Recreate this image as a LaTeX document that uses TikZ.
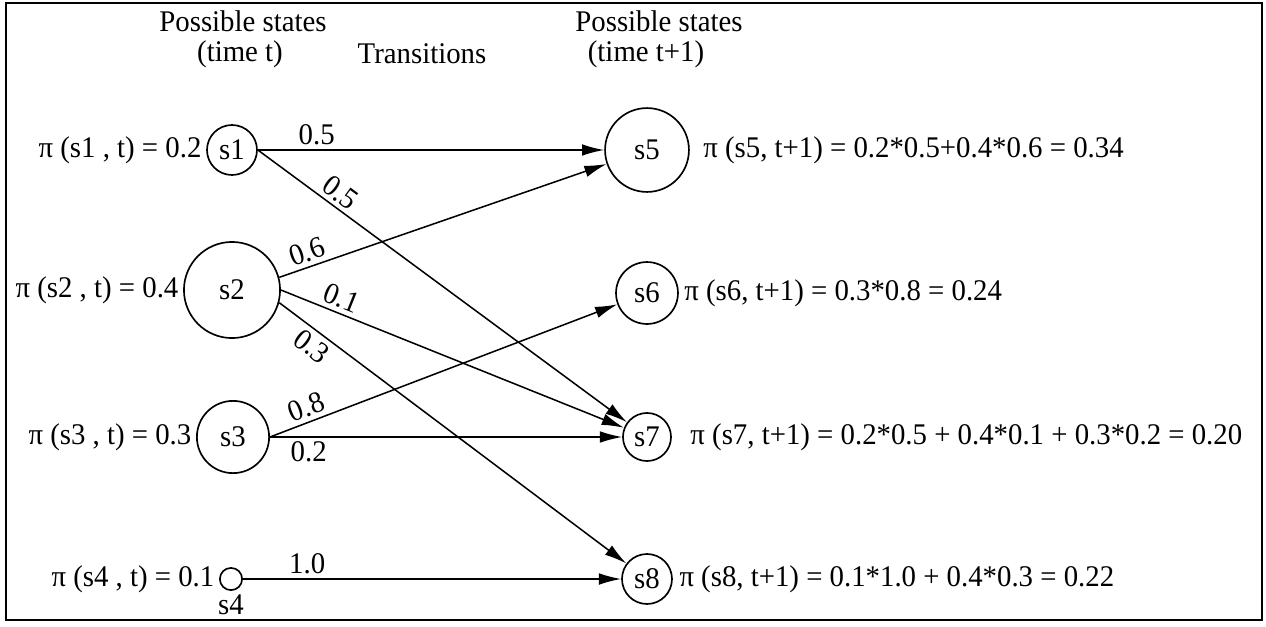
\documentclass[tikz,border=0pt]{standalone}
\usepackage{fontspec}
\setmainfont{Liberation Serif}[FakeStretch=0.96]
\usetikzlibrary{arrows.meta,positioning}

\begin{document}
\begin{tikzpicture}[x=0.36pt,y=-0.36pt,
  every node/.style={font=\fontsize{10.8}{13}\selectfont},
  state/.style={draw, circle, inner sep=0pt, line width=0.6pt},
  trans/.style={-{Latex[length=8pt,width=4.2pt]}, line width=0.55pt},
  wgt/.style={inner sep=1.5pt},
  prob/.style={inner sep=0pt}]
  \useasboundingbox (0,0) rectangle (1266,626);
  \draw[line width=0.7pt] (6,3) rectangle (1262,620);

  % column headings
  \node (headl) at (243,21) {Possible states};
  \node (timel) at (240,54) {(time t)};
  \node (headm) at (422,54) {Transitions};
  \node (headr) at (659,21) {Possible states};
  \node (timer) at (646,54) {(time t+1)};

  % states at time t
  \node[state, minimum size=18pt] (s1) at (232,150) {s1};
  \node[state, minimum size=34.6pt] (s2) at (232,290) {s2};
  \node[state, minimum size=26pt] (s3) at (233,437) {s3};
  \node[state, minimum size=8pt] (s4) at (231,579) {};
  \node[inner sep=1pt, below=0pt of s4] (s4name) {s4};

  % states at time t+1
  \node[state, minimum size=30.2pt] (s5) at (647,150) {s5};
  \node[state, minimum size=22.3pt] (s6) at (647,293) {s6};
  \node[state, minimum size=17.3pt] (s7) at (647,437) {s7};
  \node[state, minimum size=18pt] (s8) at (647,579) {s8};

  % probabilities
  \node[prob, left=1.5pt of s1] (p1) {π (s1 , t) = 0.2};
  \node[prob, left=1.5pt of s2] (p2) {π (s2 , t) = 0.4};
  \node[prob, left=1.5pt of s3] (p3) {π (s3 , t) = 0.3};
  \node[prob, left=1.5pt of s4] (p4) {π (s4 , t) = 0.1};
  \node[prob, right=4.7pt of s5] (p5) {π (s5, t+1) = 0.2*0.5+0.4*0.6 = 0.34};
  \node[prob, right=1.8pt of s6] (p6) {π (s6, t+1) = 0.3*0.8 = 0.24};
  \node[prob, right=6.5pt of s7] (p7) {π (s7, t+1) = 0.2*0.5 + 0.4*0.1 + 0.3*0.2 = 0.20};
  \node[prob, right=2.2pt of s8] (p8) {π (s8, t+1) = 0.1*1.0 + 0.4*0.3 = 0.22};

  % transitions
  \draw[trans] (s1.east) -- node[wgt, above, pos=0.17] {0.5} (s5);
  \draw[trans] (s1.east) -- node[wgt, above, sloped, pos=0.2] {0.5} (s7);
  \draw[trans] (s2.15) -- node[wgt, above, sloped, pos=0.1] {0.6} (s5);
  \draw[trans] (s2.east) -- node[wgt, above, sloped, pos=0.16] {0.1} (s7);
  \draw[trans] (s2.-15) -- node[wgt, below, sloped, pos=0.12] {0.3} (s8);
  \draw[trans] (s3.east) -- node[wgt, above, sloped, pos=0.12] {0.8} (s6);
  \draw[trans] (s3.east) -- node[wgt, below, pos=0.11] {0.2} (s7);
  \draw[trans] (s4.east) -- node[wgt, above, pos=0.17] {1.0} (s8);
\end{tikzpicture}
\end{document}
